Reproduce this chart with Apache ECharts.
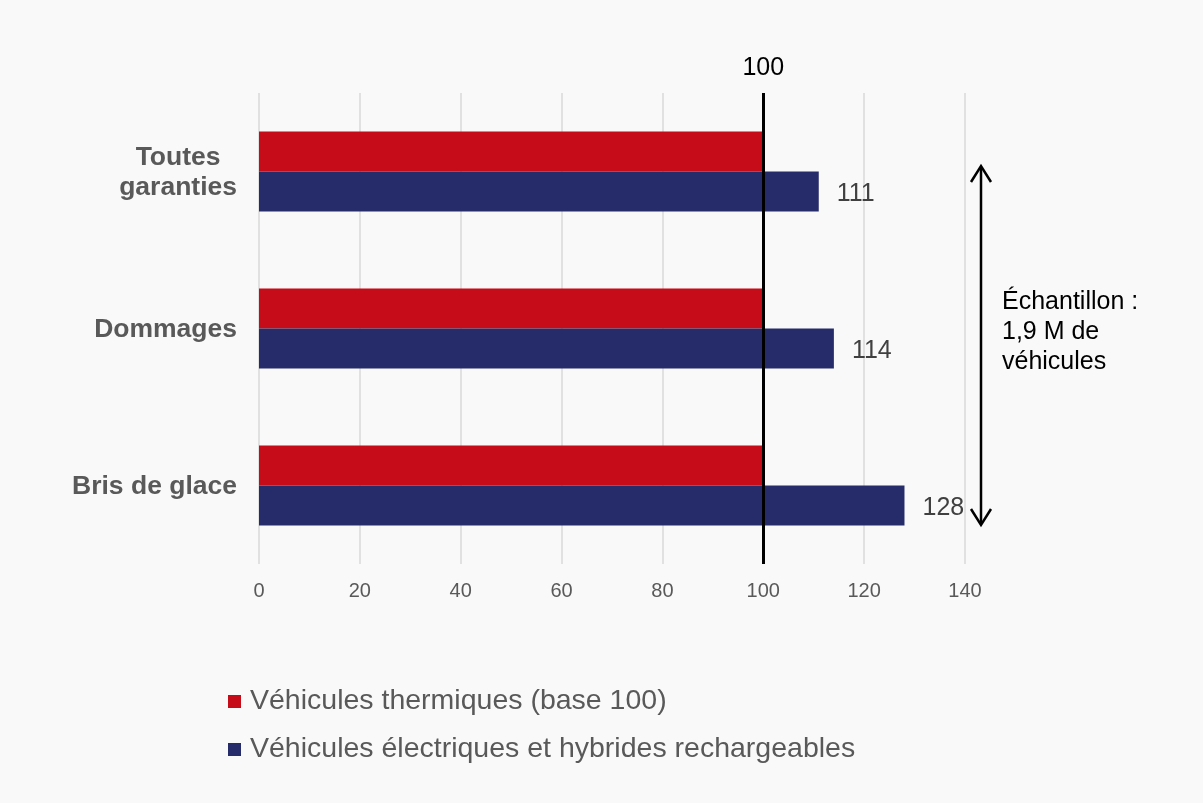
<!DOCTYPE html>
<html><head><meta charset="utf-8">
<script src="https://cdn.jsdelivr.net/npm/echarts@6/dist/echarts.min.js"></script>
<style>html,body{margin:0;padding:0;background:#f9f9f9}#c{width:1203px;height:803px}</style>
</head><body><div id="c"></div>
<script>
const categories = ['Toutes\ngaranties', 'Dommages', 'Bris de glace'];
const thermiques = [100, 100, 100];
const electriques = [111, 114, 128];
const seriesNames = ['Véhicules thermiques (base 100)', 'Véhicules électriques et hybrides rechargeables'];
const referenceValue = 100;
const xTicks = {min: 0, max: 140, interval: 20};
const sampleNote = 'Échantillon :\n1,9 M de\nvéhicules';

const FONT = '"Liberation Sans", Arial, sans-serif';
const chart = echarts.init(document.getElementById('c'));
chart.setOption({
  backgroundColor: '#f9f9f9',
  animation: false,
  textStyle: {fontFamily: FONT},
  grid: {left: 259, right: 238, top: 93, height: 471, containLabel: false},
  legend: {
    orient: 'vertical', left: 223, top: 682,
    itemWidth: 13, itemHeight: 13, itemGap: 19,
    icon: 'rect',
    textStyle: {fontFamily: FONT, fontSize: 28.5, color: '#595959', padding: [0,0,0,4]},
    data: seriesNames
  },
  xAxis: {
    type: 'value', min: xTicks.min, max: xTicks.max, interval: xTicks.interval,
    axisLine: {show: false}, axisTick: {show: false},
    splitLine: {show: true, lineStyle: {color: '#d9d9d9', width: 1.5}},
    axisLabel: {fontFamily: FONT, fontSize: 20, color: '#595959', margin: 17}
  },
  yAxis: {
    type: 'category', data: categories, inverse: true,
    axisLine: {show: false}, axisTick: {show: false},
    axisLabel: {
      margin: 22, align: 'right',
      formatter: v => v.split('\n').map(s => '{c|' + s + '}').join('\n'),
      rich: {c: {fontFamily: FONT, fontSize: 26.5, fontWeight: 'bold', color: '#595959', align: 'center', lineHeight: 30, padding: [3, 0, 0, 0]}}
    }
  },
  series: [
    {
      name: seriesNames[0], type: 'bar', data: thermiques, barWidth: 40, barGap: '0%',
      itemStyle: {color: '#c60c18'},
      markLine: {
        silent: true, symbol: ['none', 'none'],
        lineStyle: {color: '#000', width: 3, type: 'solid'},
        label: {show: true, position: 'start', formatter: String(referenceValue), color: '#000', fontSize: 25, fontFamily: FONT, distance: 12},
        data: [{xAxis: referenceValue}]
      }
    },
    {
      name: seriesNames[1], type: 'bar', data: electriques, barWidth: 40, barGap: '0%',
      itemStyle: {color: '#262c69'},
      label: {show: true, position: 'right', distance: 18, offset: [0, 3], color: '#404040', fontSize: 25, fontFamily: FONT}
    }
  ],
  graphic: [
    {type: 'line', shape: {x1: 981, y1: 167, x2: 981, y2: 524}, style: {stroke: '#000', lineWidth: 2.5}},
    {type: 'polyline', shape: {points: [[971, 182], [981, 166], [991, 182]]}, style: {stroke: '#000', lineWidth: 2.5, fill: null}},
    {type: 'polyline', shape: {points: [[971, 509], [981, 525], [991, 509]]}, style: {stroke: '#000', lineWidth: 2.5, fill: null}},
    {type: 'text', left: 1002, top: 287, style: {text: sampleNote, font: '25px ' + FONT, fill: '#000', lineHeight: 30}}
  ]
});
</script></body></html>
